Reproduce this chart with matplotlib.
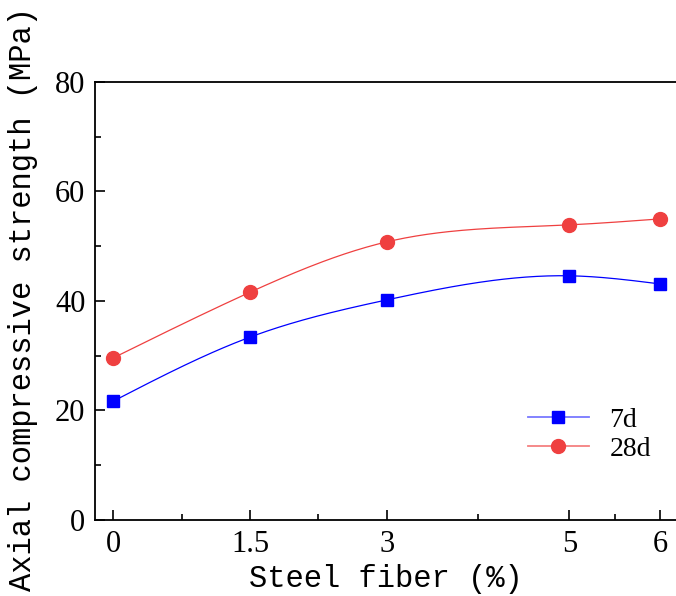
import numpy as np
import matplotlib.pyplot as plt
from matplotlib.ticker import FixedLocator, MultipleLocator

fiber = [0, 1.5, 3, 5, 6]
strength_7d = [21.7, 33.4, 40.2, 44.6, 43.1]
strength_28d = [29.6, 41.6, 50.8, 53.9, 55.0]
xtick_labels = ["0", "1.5", "3", "5", "6"]


def natural_spline(x, y, n=200):
    # natural cubic spline through the points, only for the smooth line
    x = np.asarray(x, float)
    y = np.asarray(y, float)
    k = len(x)
    h = np.diff(x)
    A = np.zeros((k, k))
    b = np.zeros(k)
    A[0, 0] = A[-1, -1] = 1
    for i in range(1, k - 1):
        A[i, i - 1] = h[i - 1]
        A[i, i] = 2 * (h[i - 1] + h[i])
        A[i, i + 1] = h[i]
        b[i] = 6 * ((y[i + 1] - y[i]) / h[i] - (y[i] - y[i - 1]) / h[i - 1])
    M = np.linalg.solve(A, b)
    xs = np.linspace(x[0], x[-1], n)
    idx = np.clip(np.searchsorted(x, xs) - 1, 0, k - 2)
    x0, x1 = x[idx], x[idx + 1]
    hh = x1 - x0
    t0, t1 = x1 - xs, xs - x0
    ys = (M[idx] * t0**3 + M[idx + 1] * t1**3) / (6 * hh) \
        + (y[idx] / hh - M[idx] * hh / 6) * t0 \
        + (y[idx + 1] / hh - M[idx + 1] * hh / 6) * t1
    return xs, ys


mono = "Liberation Mono"
serif = "Liberation Serif"

fig = plt.figure(figsize=(6.76, 5.96), dpi=100)
ax = fig.add_axes([0.1405, 0.1275, 0.8595, 0.735])

blue = "#0000FF"
red = "#EF4040"

xs, ys = natural_spline(fiber, strength_7d)
ax.plot(xs, ys, color=blue, lw=0.9)
xs, ys = natural_spline(fiber, strength_28d)
ax.plot(xs, ys, color=red, lw=0.9)
ax.plot(fiber, strength_7d, ls="none", marker="s", ms=9, color=blue)
ax.plot(fiber, strength_28d, ls="none", marker="o", ms=10, color=red)

# legend handles (lighter line, solid marker)
ax.plot([], [], color="#7878FF", lw=1.3, marker="s", ms=9,
        mfc=blue, mec=blue, label="7d")
ax.plot([], [], color="#F48080", lw=1.3, marker="o", ms=10,
        mfc=red, mec=red, label="28d")
ax.legend(loc="lower right", bbox_to_anchor=(1.0, 0.075), frameon=False,
          prop={"family": serif, "size": 20}, handlelength=2.2,
          labelspacing=0.15, handletextpad=0.75)

ax.set_xlim(-0.2, 6.17)
ax.set_ylim(0, 80)
ax.xaxis.set_major_locator(FixedLocator(fiber))
ax.xaxis.set_minor_locator(FixedLocator([0.75, 2.25, 4, 5.5]))
ax.set_xticklabels(xtick_labels)
ax.yaxis.set_major_locator(MultipleLocator(20))
ax.yaxis.set_minor_locator(MultipleLocator(10))

ax.tick_params(which="both", direction="in", top=False, right=False, width=1.2)
ax.tick_params(which="major", length=7, labelsize=22, pad=7)
ax.tick_params(which="minor", length=4)
for lab in ax.get_xticklabels() + ax.get_yticklabels():
    lab.set_fontfamily(serif)

ax.spines["right"].set_visible(False)
for s in ["left", "bottom", "top"]:
    ax.spines[s].set_linewidth(1.3)

ax.set_xlabel("Steel fiber (%)", fontfamily=mono, fontsize=22)
ax.xaxis.set_label_coords(0.5, -0.1)
ax.set_ylabel("Axial compressive strength (MPa)", fontfamily=mono,
              fontsize=22)
ax.yaxis.set_label_coords(-0.098, 0.505)

fig.savefig("out.png", dpi=100)
